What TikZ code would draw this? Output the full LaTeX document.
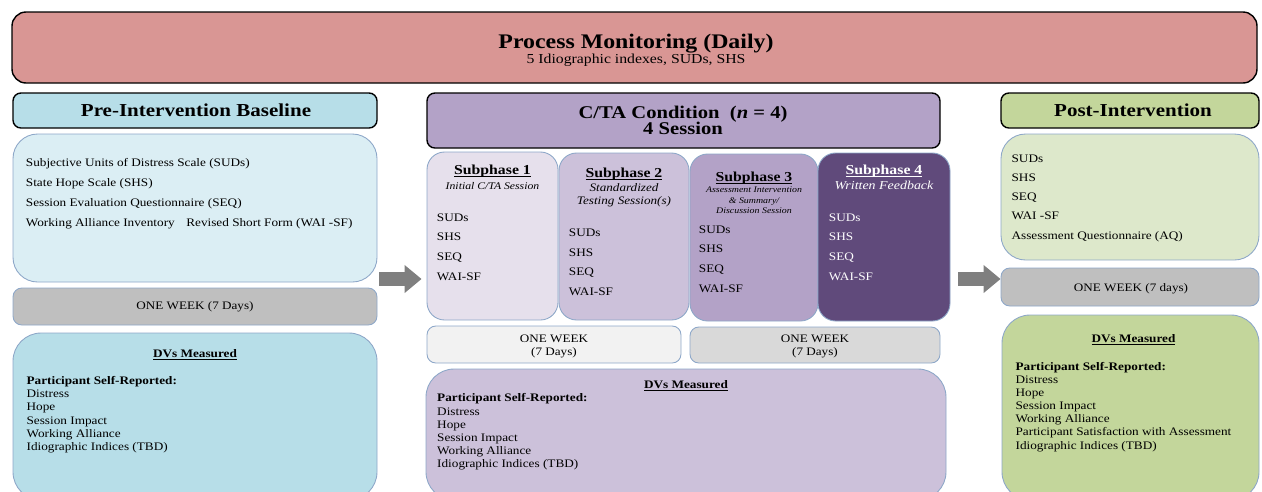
\documentclass[tikz,border=0pt]{standalone}
\usepackage{fontspec}
\setmainfont{Liberation Serif}[FakeStretch=1.15]
\usetikzlibrary{arrows.meta, fit}

\definecolor{monitor}{HTML}{D99694}
\definecolor{prehead}{HTML}{B7DEE8}
\definecolor{prepale}{HTML}{DBEEF4}
\definecolor{weekgray}{HTML}{BFBFBF}
\definecolor{ctahead}{HTML}{B3A2C7}
\definecolor{subA}{HTML}{E6E0EC}
\definecolor{subB}{HTML}{CCC1DA}
\definecolor{subC}{HTML}{B3A2C7}
\definecolor{subD}{HTML}{604A7B}
\definecolor{weekA}{HTML}{F2F2F2}
\definecolor{weekB}{HTML}{D9D9D9}
\definecolor{posthead}{HTML}{C3D69B}
\definecolor{postpale}{HTML}{DDE8CB}
\definecolor{edge}{HTML}{8DA7C8}
\definecolor{arrgray}{HTML}{7F7F7F}

\newcommand\fsz[2]{\fontsize{#1}{#2}\selectfont}
% underline that runs just under the baseline, through the descenders
\newcommand\uln[1]{\leavevmode\setbox0\hbox{#1}%
  \rlap{\vrule height -0.11em depth 0.17em width \wd0}\box0}

\begin{document}
\begin{tikzpicture}[x=0.02cm, y=-0.02cm,
  hdr/.style={draw=black, line width=0.8pt, rounded corners=4.5pt,
              inner sep=0pt},
  panel/.style={draw=edge, line width=0.5pt, rounded corners=14pt,
                inner sep=0pt},
  subbox/.style={draw=edge, line width=0.5pt, rounded corners=10pt,
                 inner sep=0pt},
  week/.style={draw=edge, line width=0.5pt, rounded corners=5pt,
               inner sep=0pt},
  % texts sit on their (last) baseline
  ttl/.style={anchor=base, inner sep=0pt, align=center,
              font=\bfseries\fsz{10.4}{9.5}},
  wk/.style={anchor=base, inner sep=0pt, align=center, font=\fsz{6.5}{7.4}},
  lst/.style={anchor=base west, align=left, inner sep=0pt,
              font=\fsz{6.55}{11.2}},
  dvl/.style={anchor=base west, align=left, inner sep=0pt,
              font=\fsz{6.55}{7.5}},
  dvh/.style={anchor=base, inner sep=0pt, font=\bfseries\fsz{6.55}{7.5}},
  sph/.style={anchor=base, inner sep=0pt, font=\bfseries\fsz{7.8}{9}},
  sps/.style={anchor=base, inner sep=0pt, align=center,
              font=\itshape\fsz{6.5}{7.5}},
  fat/.style={draw=arrgray, line width=0.28cm,
              -{Triangle[length=0.34cm, width=0.54cm]}}]

  \useasboundingbox (0,0) rectangle (1262,491);
  \clip (0,0) rectangle (1262,491);

  % daily monitoring band
  \node[hdr, fill=monitor, rounded corners=8pt, fit={(12,12) (1257,83)}] (mon) {};
  \node[anchor=base, inner sep=0pt, font=\bfseries\fsz{11.8}{13}]
    at ([shift={(1.5,37.5)}]mon.north) {Process Monitoring (Daily)};
  \node[anchor=base, inner sep=0pt, font=\fsz{7.8}{9}]
    at ([shift={(1.5,52)}]mon.north) {5 Idiographic indexes, SUDs, SHS};

  % baseline column
  \node[hdr, fill=prehead, fit={(13,93) (377,128)}] (prehdr) {};
  \node[ttl] at ([shift={(1,23.7)}]prehdr.north) {Pre-Intervention Baseline};
  \node[panel, fill=prepale, fit={(13,134) (377,282)}] (prep) {};
  \node[lst, font=\fsz{6.55}{11.5}] at ([shift={(13,93.4)}]prep.north west)
    {Subjective Units of Distress Scale (SUDs)\\
     State Hope Scale (SHS)\\
     Session Evaluation Questionnaire (SEQ)\\
     Working Alliance Inventory\quad Revised Short Form (WAI -SF)};
  \node[week, fill=weekgray, fit={(13,288) (377,325)}] (prew) {};
  \node[wk] at ([shift={(0,22)}]prew.north) {ONE WEEK (7 Days)};
  \node[panel, fill=prehead, rounded corners=16pt, fit={(13,333) (377,500)}] (pred) {};
  \node[dvh] at ([shift={(0,25.3)}]pred.north) {\uln{DVs Measured}};
  \node[dvl] at ([shift={(13.7,117.8)}]pred.north west)
    {\textbf{Participant Self-Reported:}\\ Distress\\ Hope\\ Session Impact\\
     Working Alliance\\ Idiographic Indices (TBD)};

  % intervention column
  \node[hdr, fill=ctahead, fit={(427,93) (940,148)}] (ctahdr) {};
  \node[ttl, font=\bfseries\fsz{10.2}{9.5}] at ([shift={(-0.5,42.5)}]ctahdr.north)
    {C/TA Condition~ (\textit{n} = 4)\\ 4 Session};

  \node[subbox, fill=subA, fit={(427,152) (558,320)}] (sub1) {};
  \node[sph] at ([shift={(0,23)}]sub1.north) {\uln{Subphase 1}};
  \node[sps, font=\itshape\fsz{5.8}{7}] at ([shift={(0,38)}]sub1.north)
    {Initial C/TA Session};
  \node[lst] at ([shift={(10,128.7)}]sub1.north west) {SUDs\\ SHS\\ SEQ\\ WAI-SF};

  \node[subbox, fill=subB, fit={(559,153) (689,320)}] (sub2) {};
  \node[sph] at ([shift={(0,25.3)}]sub2.north) {\uln{Subphase 2}};
  \node[sps] at ([shift={(0,52)}]sub2.north)
    {Standardized\\ Testing Session(s)};
  \node[lst] at ([shift={(10,143)}]sub2.north west) {SUDs\\ SHS\\ SEQ\\ WAI-SF};

  \node[subbox, fill=subC, fit={(690,154) (818,321)}] (sub3) {};
  \node[sph] at ([shift={(0,27.7)}]sub3.north) {\uln{Subphase 3}};
  \node[sps, font=\itshape\fsz{4.9}{6}] at ([shift={(0,60.3)}]sub3.north)
    {Assessment Intervention\\ \& Summary/\\ Discussion Session};
  \node[lst] at ([shift={(9,138.7)}]sub3.north west) {SUDs\\ SHS\\ SEQ\\ WAI-SF};

  \node[subbox, fill=subD, fit={(818,153) (950,321)}] (sub4) {};
  \node[sph, text=white] at ([shift={(0,22)}]sub4.north) {\uln{Subphase 4}};
  \node[sps, text=white, font=\itshape\fsz{6.9}{8}] at ([shift={(0,37)}]sub4.north)
    {Written Feedback};
  \node[lst, text=white] at ([shift={(11,127.7)}]sub4.north west)
    {SUDs\\ SHS\\ SEQ\\ WAI-SF};

  \node[week, fill=weekA, fit={(427,326) (681,363)}] (week1) {};
  \node[wk] at ([shift={(0,30)}]week1.north) {ONE WEEK\\ (7 Days)};
  \node[week, fill=weekB, fit={(690,327) (940,363)}] (week2) {};
  \node[wk] at ([shift={(0,29)}]week2.north) {ONE WEEK\\ (7 Days)};

  \node[panel, fill=subB, rounded corners=16pt, fit={(426,369) (946,500)}] (midd) {};
  \node[dvh] at ([shift={(0,20.3)}]midd.north) {\uln{DVs Measured}};
  \node[dvl] at ([shift={(11.3,99.3)}]midd.north west)
    {\textbf{Participant Self-Reported:}\\ Distress\\ Hope\\ Session Impact\\
     Working Alliance\\ Idiographic Indices (TBD)};

  % follow-up column
  \node[hdr, fill=posthead, fit={(1001,93) (1259,128)}] (posthdr) {};
  \node[ttl] at ([shift={(3,23.7)}]posthdr.north) {Post-Intervention};
  \node[panel, fill=postpale, fit={(1001,134) (1259,260)}] (postp) {};
  \node[lst, font=\fsz{6.55}{10.9}] at ([shift={(10.7,105.5)}]postp.north west)
    {SUDs\\ SHS\\ SEQ\\ WAI -SF\\ Assessment Questionnaire (AQ)};
  \node[week, fill=weekgray, fit={(1001,268) (1259,306)}] (postw) {};
  \node[wk] at ([shift={(1,23.7)}]postw.north) {ONE WEEK (7 days)};
  \node[panel, fill=posthead, rounded corners=16pt, fit={(1002,315) (1259,500)}] (postd) {};
  \node[dvh] at ([shift={(3,27.7)}]postd.north) {\uln{DVs Measured}};
  \node[dvl] at ([shift={(13.7,134.5)}]postd.north west)
    {\textbf{Participant Self-Reported:}\\ Distress\\ Hope\\ Session Impact\\
     Working Alliance\\ Participant Satisfaction with Assessment\\
     Idiographic Indices (TBD)};

  % phase transitions
  \coordinate (into) at (379,279);
  \coordinate (outof) at (958,279);
  \draw[fat, shorten >=0.1cm] (into) -- (into -| sub1.west);
  \draw[fat] (outof) -- (outof -| postw.west);
\end{tikzpicture}
\end{document}
